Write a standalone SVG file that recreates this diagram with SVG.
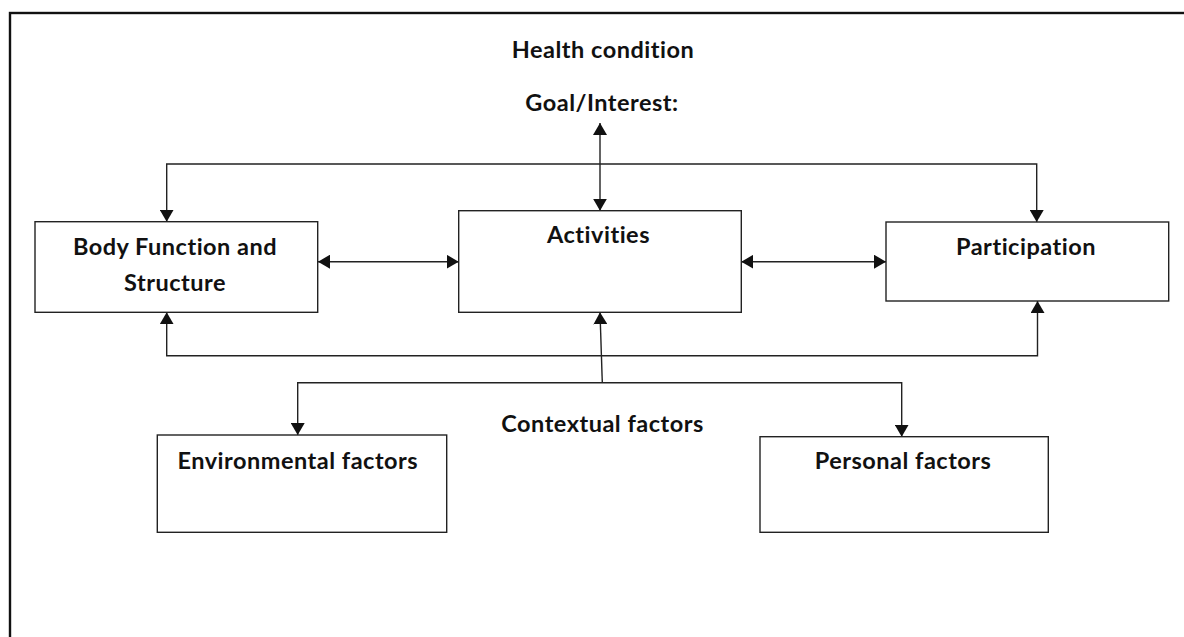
<svg xmlns="http://www.w3.org/2000/svg" width="1184" height="637" viewBox="0 0 1184 637">
<style>
.frame{fill:none;stroke:#111;stroke-width:2.4}
.box{fill:#fff;stroke:#222;stroke-width:1.4}
.ln{fill:none;stroke:#222;stroke-width:1.4}
.t{font-family:Lato,"Liberation Sans",sans-serif;font-weight:bold;font-size:23.5px;letter-spacing:0.5px;fill:#111;text-anchor:middle}
</style>
<defs>
<marker id="ah" viewBox="0 0 12 14" refX="12" refY="7" markerWidth="12" markerHeight="14" markerUnits="userSpaceOnUse" orient="auto-start-reverse">
<path d="M0,0 L12,7 L0,14 Z" fill="#111"/>
</marker>
</defs>
<rect width="1184" height="637" fill="#fff"/>
<rect class="frame" x="10" y="13" width="1200" height="660"/>
<g id="connectors">
<line class="ln" x1="600" y1="123" x2="600" y2="210.7" marker-start="url(#ah)" marker-end="url(#ah)"/>
<polyline class="ln" points="166.7,221.7 166.7,164 1036.7,164 1036.7,222" marker-start="url(#ah)" marker-end="url(#ah)"/>
<line class="ln" x1="318" y1="261.7" x2="458.7" y2="261.7" marker-start="url(#ah)" marker-end="url(#ah)"/>
<line class="ln" x1="741.3" y1="261.7" x2="886" y2="261.7" marker-start="url(#ah)" marker-end="url(#ah)"/>
<polyline class="ln" points="166.7,312.3 166.7,355.7 1037.5,355.7 1037.5,301" marker-start="url(#ah)" marker-end="url(#ah)"/>
<line class="ln" x1="602.3" y1="382.7" x2="600" y2="312.3" marker-end="url(#ah)"/>
<polyline class="ln" points="297.7,435 297.7,382.7 901.7,382.7 901.7,436.7" marker-start="url(#ah)" marker-end="url(#ah)"/>
</g>
<g id="health">
<text class="t" x="603" y="57.5">Health condition</text>
</g>
<g id="goal">
<text class="t" x="602" y="111">Goal/Interest:</text>
</g>
<g id="body">
<rect class="box" x="35" y="221.7" width="282.7" height="90.6"/>
<text class="t" x="175" y="255">Body Function and</text>
<text class="t" x="175" y="290.7">Structure</text>
</g>
<g id="activities">
<rect class="box" x="458.7" y="210.7" width="282.6" height="101.6"/>
<text class="t" x="598.5" y="242.7">Activities</text>
</g>
<g id="participation">
<rect class="box" x="886" y="222" width="282.7" height="79"/>
<text class="t" x="1026" y="255">Participation</text>
</g>
<g id="contextual">
<text class="t" x="602.5" y="432.3">Contextual factors</text>
</g>
<g id="environmental">
<rect class="box" x="157.3" y="435" width="289.4" height="97.3"/>
<text class="t" x="297.8" y="469.3">Environmental factors</text>
</g>
<g id="personal">
<rect class="box" x="760" y="436.7" width="288.3" height="95.6"/>
<text class="t" x="903" y="469.3">Personal factors</text>
</g>
</svg>
